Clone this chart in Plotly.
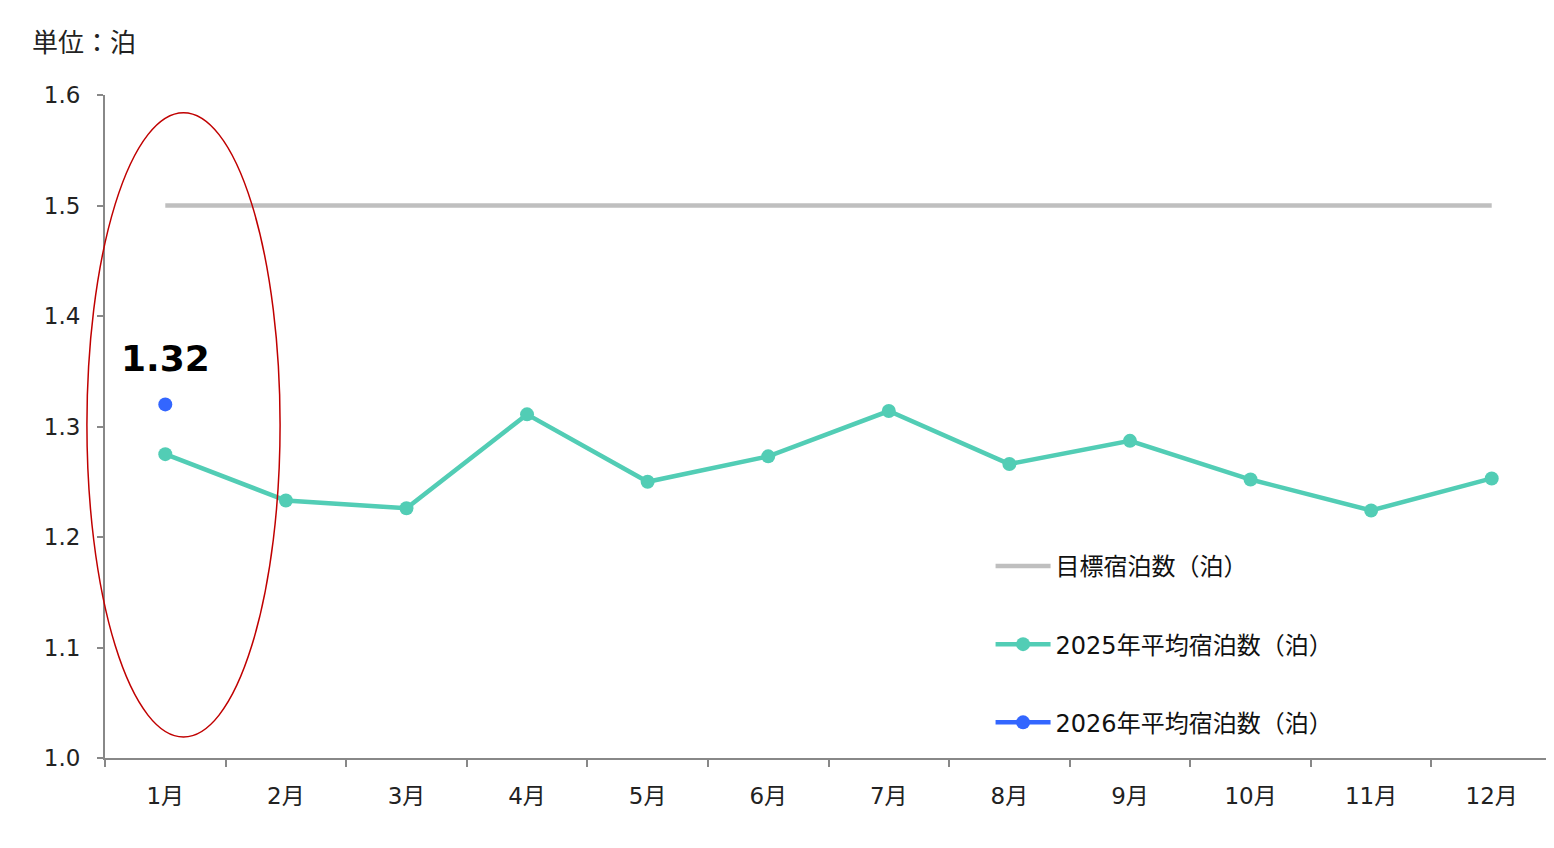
import plotly.graph_objects as go

months = ["1月", "2月", "3月", "4月", "5月", "6月", "7月", "8月", "9月", "10月", "11月", "12月"]
target = [1.5] * 12
avg_2025 = [1.275, 1.233, 1.226, 1.311, 1.250, 1.273, 1.314, 1.266, 1.287, 1.252, 1.224, 1.253]
months_2026 = ["1月"]
avg_2026 = [1.32]
y_ticks = [1.0, 1.1, 1.2, 1.3, 1.4, 1.5, 1.6]

FONT = "DejaVu Sans, Noto Sans CJK JP, sans-serif"
GREEN = "#52CDB5"
BLUE = "#3366FF"
GREY = "#BFBFBF"

fig = go.Figure()
fig.add_trace(go.Scatter(x=months, y=target, mode="lines", name="目標宿泊数（泊）",
                         line=dict(color=GREY, width=4.5), legendgroup="a"))
fig.add_trace(go.Scatter(x=months, y=avg_2025, mode="lines+markers", name="2025年平均宿泊数（泊）",
                         line=dict(color=GREEN, width=4.5), marker=dict(size=14, color=GREEN),
                         legendgroup="b"))
fig.add_trace(go.Scatter(x=months_2026, y=avg_2026, mode="lines+markers", name="2026年平均宿泊数（泊）",
                         line=dict(color=BLUE, width=4.5), marker=dict(size=14, color=BLUE),
                         legendgroup="c"))

fig.add_annotation(x=months_2026[0], y=avg_2026[0], text=f"<b>{avg_2026[0]:.2f}</b>",
                   showarrow=False, yshift=46, font=dict(family=FONT, size=36, color="#000000"))

fig.add_annotation(xref="paper", yref="paper", x=-0.052, y=1.052, xanchor="left", yanchor="bottom",
                   text="単位：泊", showarrow=False,
                   font=dict(family="Noto Sans CJK JP, sans-serif", size=26, color="#222222"))

# highlight ellipse around January (extends slightly left of the y-axis)
fig.add_shape(type="circle", xref="paper", yref="y", x0=-0.0125, x1=0.121, y0=1.019, y1=1.584,
              line=dict(color="#C00000", width=1.5), fillcolor="rgba(0,0,0,0)")

fig.update_layout(
    width=1546, height=840,
    margin=dict(l=97, r=2, t=87, b=90),
    paper_bgcolor="white", plot_bgcolor="white",
    font=dict(family=FONT, size=24, color="#222222"),
    showlegend=True,
    legend=dict(x=0.612, y=0.323, xanchor="left", yanchor="top",
                font=dict(family=FONT, size=24, color="#111111"),
                tracegroupgap=44, traceorder="grouped", itemwidth=55,
                bgcolor="rgba(0,0,0,0)"),
    xaxis=dict(type="category", range=[-0.5, 11.5], showgrid=False,
               showline=True, linecolor="#888888", linewidth=2,
               ticks="outside", tickson="boundaries", ticklen=7, tickwidth=2, tickcolor="#888888",
               ticklabelstandoff=16,
               tickfont=dict(family=FONT, size=23, color="#222222")),
    yaxis=dict(range=[1.0, 1.6], tickvals=y_ticks, tickformat=".1f", showgrid=False,
               zeroline=False, showline=True, linecolor="#888888", linewidth=2,
               ticks="outside", ticklen=6, tickwidth=2, tickcolor="#888888",
               ticklabelstandoff=12,
               tickfont=dict(family=FONT, size=23, color="#222222")),
)

fig.write_html("out.html")
